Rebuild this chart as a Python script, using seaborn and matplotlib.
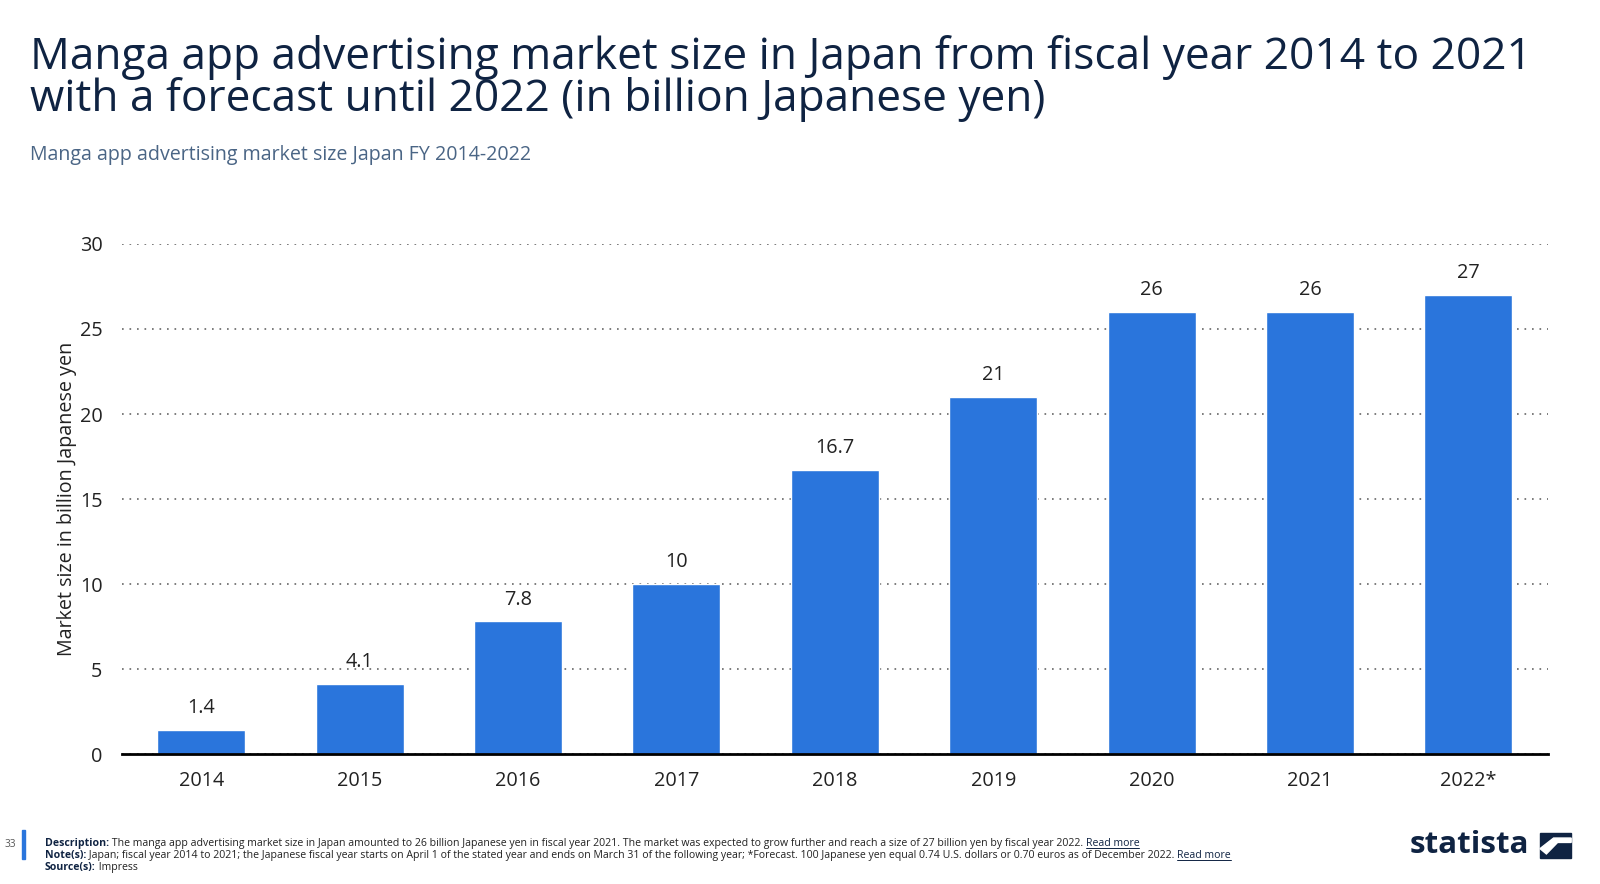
import matplotlib
matplotlib.use("Agg")
import matplotlib.pyplot as plt
import seaborn as sns
import pandas as pd
from matplotlib.patches import Polygon, Rectangle
from matplotlib.lines import Line2D

years = ["2014", "2015", "2016", "2017", "2018", "2019", "2020", "2021", "2022*"]
market_size = [1.4, 4.1, 7.8, 10, 16.7, 21, 26, 26, 27]
value_labels = ["1.4", "4.1", "7.8", "10", "16.7", "21", "26", "26", "27"]
y_ticks = [0, 5, 10, 15, 20, 25, 30]

df = pd.DataFrame({"year": years, "size": market_size})

sns.set_theme(style="white")
plt.rcParams["font.family"] = ["Open Sans", "DejaVu Sans"]

navy = "#0f2342"
bar_color = "#2a75dc"

fig = plt.figure(figsize=(16, 8.84), dpi=100)
ax = fig.add_axes([0.07625, 0.147, 0.891, 0.577])

sns.barplot(data=df, x="year", y="size", color=bar_color, width=0.555,
            saturation=1, ax=ax, zorder=3)

for i, (v, lab) in enumerate(zip(market_size, value_labels)):
    ax.text(i, v + 0.7, lab, ha="center", va="bottom", fontsize=14.3, color="#222222")

ax.set_ylim(0, 30)
ax.set_xlim(-0.5, 8.5)
ax.set_yticks(y_ticks)
ax.set_yticklabels([str(t) for t in y_ticks], fontsize=14.3, color="#222222")
ax.tick_params(axis="x", labelsize=14.3, colors="#222222", length=0, pad=12)
ax.tick_params(axis="y", length=0, pad=14)
ax.yaxis.grid(True, linestyle=(0, (1, 3.5)), color="#666666", linewidth=1.2, zorder=0)
ax.set_axisbelow(True)
for s in ["top", "right", "left"]:
    ax.spines[s].set_visible(False)
ax.spines["bottom"].set_color("black")
ax.spines["bottom"].set_linewidth(2)
ax.spines["bottom"].set_zorder(4)
ax.set_xlabel("")
ax.set_ylabel("Market size in billion Japanese yen", fontsize=14.2, color="#222222", labelpad=2)

# titles
fig.text(0.019, 0.935, "Manga app advertising market size in Japan from fiscal year 2014 to 2021",
         fontsize=31.9, color=navy, va="center")
fig.text(0.019, 0.888, "with a forecast until 2022 (in billion Japanese yen)",
         fontsize=31.9, color=navy, va="center")
fig.text(0.019, 0.8247, "Manga app advertising market size Japan FY 2014-2022",
         fontsize=14.1, color="#4a6585", va="center")

# footer
fig.text(0.003, 0.045, "33", fontsize=7.2, color="#555555", va="center")
fig.add_artist(Rectangle((0.01375, 0.028), 0.0019, 0.033, transform=fig.transFigure,
                         color=bar_color))
foot_size = 7.6
lines = [
    ("Description:", " The manga app advertising market size in Japan amounted to 26 billion Japanese yen in fiscal year 2021. The market was expected to grow further and reach a size of 27 billion yen by fiscal year 2022. ", True, 0.0455),
    ("Note(s):", " Japan; fiscal year 2014 to 2021; the Japanese fiscal year starts on April 1 of the stated year and ends on March 31 of the following year; *Forecast. 100 Japanese yen equal 0.74 U.S. dollars or 0.70 euros as of December 2022. ", True, 0.032),
    ("Source(s):", " Impress", False, 0.0185),
]
fig.canvas.draw()
renderer = fig.canvas.get_renderer()
W, H = fig.bbox.width, fig.bbox.height
for head, body, more, yy in lines:
    t = fig.text(0.028, yy, head, fontsize=foot_size, color=navy, fontweight="bold", va="center")
    x1 = t.get_window_extent(renderer).x1 / W
    t2 = fig.text(x1, yy, body, fontsize=foot_size, color="#222222", va="center")
    if more:
        x2 = t2.get_window_extent(renderer).x1 / W
        t3 = fig.text(x2, yy, "Read more", fontsize=foot_size, color=navy, va="center")
        bb = t3.get_window_extent(renderer)
        fig.add_artist(Line2D([bb.x0 / W, bb.x1 / W], [bb.y0 / H + 0.001, bb.y0 / H + 0.001],
                              transform=fig.transFigure, color=navy, linewidth=0.7))

# statista logo
fig.text(0.881, 0.044, "statista", fontsize=22.5, color=navy, fontweight="bold", va="center")
fig.add_artist(Rectangle((0.9625, 0.029), 0.0195, 0.029, transform=fig.transFigure, color=navy))
fig.add_artist(Polygon([(0.9625, 0.040), (0.9710, 0.052), (0.982, 0.052), (0.982, 0.047),
                        (0.9735, 0.047), (0.9665, 0.034)], closed=True,
                       transform=fig.transFigure, color="white"))

fig.savefig("out.png", dpi=100, facecolor="white")
